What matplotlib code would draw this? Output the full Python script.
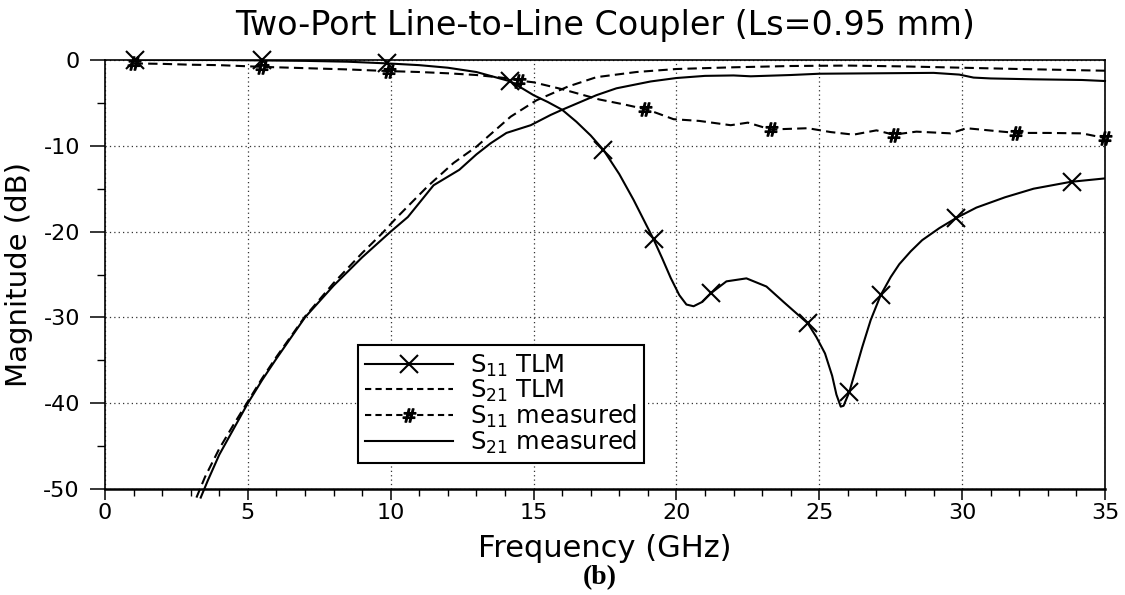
import matplotlib
matplotlib.use('Agg')
import matplotlib.pyplot as plt
from matplotlib.lines import Line2D
from matplotlib.ticker import MultipleLocator

plt.rcParams['font.family'] = ['DejaVu Sans']
plt.rcParams['mathtext.default'] = 'regular'
plt.rcParams['axes.unicode_minus'] = False

# ---- data (frequency in GHz, magnitude in dB) ----
s11_tlm_f = [1.0, 2.0, 3.0, 4.0, 5.5, 7.0, 8.5, 9.9, 11.0, 12.0, 13.0, 14.2, 15.0, 15.5, 16.0,
             16.5, 17.0, 17.45, 18.0, 18.5, 19.2, 19.5, 19.8, 20.1, 20.35, 20.6, 20.9, 21.2, 21.75,
             22.45, 23.15, 23.75, 24.6, 24.9, 25.2, 25.45, 25.6, 25.75, 25.85, 26.05, 26.5, 26.8,
             27.15, 27.5, 27.8, 28.2, 28.6, 29.2, 29.8, 30.5, 31.5, 32.5, 33.8, 35.0]
s11_tlm_db = [0.0, 0.0, 0.0, 0.0, -0.05, -0.1, -0.2, -0.4, -0.6, -0.9, -1.4, -2.5, -4.1, -4.9, -5.8,
              -7.2, -8.8, -10.5, -13.3, -16.3, -20.9, -23.1, -25.4, -27.4, -28.5, -28.7, -28.2, -27.2,
              -25.8, -25.45, -26.4, -28.2, -30.7, -32.3, -34.2, -36.8, -39.0, -40.4, -40.3, -38.7,
              -33.5, -30.3, -27.4, -25.3, -23.8, -22.3, -21.0, -19.6, -18.4, -17.2, -16.0, -15.0,
              -14.2, -13.8]
s11_tlm_mark_f = [1.05, 5.5, 9.87, 14.17, 17.43, 19.2, 21.2, 24.6, 26.05, 27.15, 29.8, 33.85]
s11_tlm_mark_db = [0.0, 0.0, -0.4, -2.5, -10.5, -20.9, -27.2, -30.7, -38.7, -27.4, -18.4, -14.2]

s21_tlm_f = [3.2, 3.5, 4.0, 4.5, 5.0, 5.5, 6.0, 7.0, 8.0, 9.0, 9.7, 10.2, 11.3, 12.2, 13.0, 14.2,
             15.1, 16.2, 17.2, 18.6, 20.0, 22.0, 24.0, 26.0, 28.0, 30.0, 32.0, 35.0]
s21_tlm_db = [-51.0, -48.6, -45.3, -42.5, -39.8, -37.1, -34.6, -29.9, -26.0, -22.5, -20.2, -18.4,
              -14.7, -12.0, -10.1, -6.6, -4.7, -3.1, -2.0, -1.4, -1.05, -0.85, -0.7, -0.65, -0.75,
              -0.9, -1.05, -1.25]

s11_meas_f = [1.0, 2.0, 3.0, 4.0, 5.5, 7.0, 8.5, 10.0, 11.0, 12.0, 13.0, 14.0, 14.5, 15.0, 16.0,
              17.3, 18.2, 19.0, 19.9, 20.8, 21.9, 22.5, 23.3, 24.6, 25.4, 26.2, 27.0, 27.6, 28.4,
              29.6, 30.15, 31.4, 31.9, 33.0, 34.2, 35.0]
s11_meas_db = [-0.4, -0.45, -0.55, -0.6, -0.8, -0.95, -1.1, -1.3, -1.4, -1.55, -1.75, -2.1, -2.4,
               -2.6, -3.4, -4.6, -5.2, -5.8, -6.9, -7.1, -7.6, -7.3, -8.1, -7.95, -8.4, -8.7, -8.2,
               -8.7, -8.35, -8.55, -7.95, -8.35, -8.5, -8.5, -8.55, -9.1]
s11_meas_mark_f = [1.0, 5.5, 9.95, 14.5, 18.9, 23.3, 27.6, 31.9, 35.0]
s11_meas_mark_db = [-0.4, -0.8, -1.3, -2.4, -5.7, -8.1, -8.7, -8.5, -9.1]

s21_meas_f = [3.35, 3.6, 4.0, 4.5, 5.0, 5.5, 6.0, 7.0, 8.0, 9.0, 10.0, 10.6, 11.5, 12.4, 13.0, 13.5,
              14.05, 14.9, 15.6, 16.0, 17.2, 17.9, 19.1, 20.0, 21.0, 22.0, 22.6, 24.0, 25.0, 27.0,
              29.0, 29.9, 30.4, 31.0, 32.5, 34.2, 35.0]
s21_meas_db = [-51.0, -49.0, -46.0, -43.0, -40.0, -37.3, -34.8, -30.0, -26.3, -23.0, -20.0, -18.3,
               -14.6, -12.8, -11.0, -9.7, -8.5, -7.6, -6.4, -5.8, -4.1, -3.3, -2.5, -2.1, -1.85,
               -1.8, -1.9, -1.75, -1.6, -1.55, -1.5, -1.7, -2.05, -2.15, -2.25, -2.33, -2.45]

labels = ['S$_{11}$ TLM', 'S$_{21}$ TLM', 'S$_{11}$ measured', 'S$_{21}$ measured']
title = 'Two-Port Line-to-Line Coupler (Ls=0.95 mm)'

# ---- figure ----
fig = plt.figure(figsize=(11.25, 5.95), dpi=100)
ax = fig.add_axes([105 / 1125, (595 - 489) / 595, 1000 / 1125, 429 / 595])

lw = 1.5
dash = (4.5, 2.5)
hash_marker = r'$\#$'

ax.plot(s11_tlm_f, s11_tlm_db, color='k', lw=lw, solid_joinstyle='round')
ax.plot(s11_tlm_mark_f, s11_tlm_mark_db, ls='none', marker='x', ms=13, mew=1.5, color='k', clip_on=False)
ax.plot(s21_tlm_f, s21_tlm_db, color='k', lw=lw, ls=(0, dash), clip_on=False)
ax.plot(s11_meas_f, s11_meas_db, color='k', lw=lw, ls=(0, dash))
ax.plot(s11_meas_mark_f, s11_meas_mark_db, ls='none', marker=hash_marker, ms=9.5, color='k', clip_on=False)
ax.plot(s21_meas_f, s21_meas_db, color='k', lw=lw, clip_on=False)

ax.set_xlim(0, 35)
ax.set_ylim(-50, 0)
ax.xaxis.set_major_locator(MultipleLocator(5))
ax.xaxis.set_minor_locator(MultipleLocator(1))
ax.yaxis.set_major_locator(MultipleLocator(10))
ax.yaxis.set_minor_locator(MultipleLocator(5))
ax.tick_params(axis='x', which='major', direction='out', length=8, width=1.1, labelsize=16, pad=2)
ax.tick_params(axis='x', which='minor', direction='out', length=5, width=1.0)
ax.tick_params(axis='y', which='major', direction='out', length=11, width=1.1, labelsize=16, pad=7)
ax.tick_params(axis='y', which='minor', direction='out', length=6, width=1.0)
for s in ax.spines.values():
    s.set_linewidth(1.2)
ax.spines['bottom'].set_linewidth(1.8)

ax.grid(True, which='major', color='0.2', lw=0.9, ls=(0, (1, 2.5)))
ax.set_axisbelow(True)

ax.set_title(title, fontsize=24, pad=18)
ax.set_xlabel('Frequency (GHz)', fontsize=22, labelpad=8)
ax.set_ylabel('Magnitude (dB)', fontsize=21)
ax.yaxis.set_label_coords(-0.072, 0.5)

handles = [
    Line2D([], [], color='k', lw=lw, marker='x', ms=13, mew=1.5),
    Line2D([], [], color='k', lw=lw, ls=(0, (3, 2))),
    Line2D([], [], color='k', lw=lw, ls=(0, (3, 2)), marker=hash_marker, ms=9.5),
    Line2D([], [], color='k', lw=lw),
]
leg = ax.legend(handles, labels, loc='lower left', bbox_to_anchor=(0.253, 0.0606),
                borderaxespad=0, fontsize=17.5, frameon=True, fancybox=False, framealpha=1,
                edgecolor='k', handlelength=3.6, handletextpad=0.7, labelspacing=-0.05,
                borderpad=0.3, numpoints=1)
leg.get_frame().set_linewidth(1.5)

fig.text(600 / 1125, (595 - 578) / 595, '(b)', ha='center', va='center',
         fontfamily='Liberation Serif', fontweight='bold', fontsize=20)

fig.savefig('out.png', dpi=100)
